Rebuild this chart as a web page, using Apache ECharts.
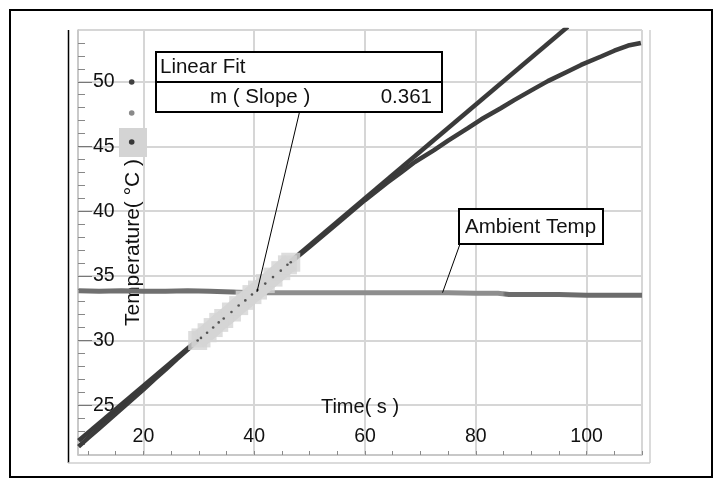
<!DOCTYPE html>
<html>
<head>
<meta charset="utf-8">
<script src="https://cdn.jsdelivr.net/npm/echarts@6/dist/echarts.min.js"></script>
<style>
html,body{margin:0;padding:0;background:#fff;}
#c{width:721px;height:485px;}
</style>
</head>
<body>
<div id="c"></div>
<script>
// ---- data ----
const xRange = [8.2, 110];
const yRange = [21.15, 54];
const xMinorTicks = [10,15,20,25,30,35,40,45,50,55,60,65,70,75,80,85,90,95,100,105,110];
const yMajorTicks = [25,30,35,40,45,50];
const yMinorTicks = [22,23,24,26,27,28,29,31,32,33,34,36,37,38,39,41,42,43,44,46,47,48,49,51,52,53];

// measured temperature (dark curve)
const tempData = [
  [8.3,21.8],[10,22.45],[12,23.2],[14,23.95],[16,24.7],[18,25.45],[20,26.2],[22,27.0],
  [24,27.75],[26,28.55],[28,29.3],[29.7,29.95],[32,30.9],[35,31.9],[38,33.0],[41,34.0],
  [44,35.1],[46.6,36.05],[50,37.25],[55,39.05],[60,40.85],[64,42.2],[66.4,42.95],
  [69,43.8],[72.4,44.7],[75,45.45],[78.5,46.4],[81,47.1],[84.5,47.95],[87,48.6],
  [90.5,49.45],[93,50.05],[96.6,50.8],[99,51.3],[102.6,51.95],[105,52.4],[107.5,52.8],[109.8,53.0]
];
// selected points (highlighted region of the linear fit)
const selectedData = [
  [29.8,30.0],[30.4,30.2],[31.5,30.6],[32.6,31.0],[33.6,31.4],[34.5,31.7],[35.9,32.2],
  [37.2,32.7],[38.4,33.1],[39.6,33.55],[40.6,33.9],[42.0,34.4],[43.4,34.9],[44.8,35.4],
  [46.0,35.85],[46.6,36.05]
];
// linear fit line end points (slope 0.361)
const fitData = [[8.3,22.25],[96.6,54.25]];
// ambient temperature
const ambientData = [
  [8.3,33.85],[12,33.8],[16,33.85],[20,33.8],[24,33.8],[28,33.85],[32,33.8],[36,33.75],
  [40,33.7],[45,33.7],[50,33.7],[55,33.7],[60,33.7],[65,33.7],[70,33.7],[75,33.7],
  [80,33.65],[84,33.65],[86,33.55],[90,33.55],[95,33.55],[100,33.5],[105,33.5],[110,33.5]
];
const fitLabel = 'Linear Fit';
const slopeName = 'm ( Slope )';
const slopeValue = '0.361';
const ambientLabel = 'Ambient Temp';
const fitAnchor = [40.5, 33.75];
const ambientAnchor = [74, 33.7];

const FONT = '"Liberation Sans", Arial, sans-serif';
const FS = 19.5;
const FA = 20.5;

const chart = echarts.init(document.getElementById('c'), null, {renderer:'canvas'});

const axisBase = (dim) => ({
  type:'value', gridIndex:0,
  min: dim==='x'?xRange[0]:yRange[0], max: dim==='x'?xRange[1]:yRange[1],
});

const option = {
  backgroundColor:'#fff',
  animation:false,
  grid:{left:78,right:79,top:30,bottom:30,outerBoundsMode:'none',containLabel:false},
  xAxis:[
    Object.assign(axisBase('x'),{
      position:'bottom',
      axisLine:{show:true,lineStyle:{color:'#c4c4c4',width:1.5}},
      axisTick:{show:false},
      axisLabel:{inside:true,margin:8,fontSize:FS,color:'#111',fontFamily:FONT,showMinLabel:false,showMaxLabel:false},
      splitLine:{show:true,lineStyle:{color:'#d6d6d6',width:2}},
      name:'Time( s )',nameLocation:'middle',nameGap:-58,nameMoveOverlap:false,
      nameTextStyle:{fontSize:20,color:'#111',fontFamily:FONT}
    }),
    Object.assign(axisBase('x'),{
      position:'bottom',
      axisLine:{show:false},
      axisLabel:{show:false},
      splitLine:{show:false},
      axisTick:{show:true,inside:true,length:4,customValues:xMinorTicks,lineStyle:{color:'#8a8a8a',width:1}}
    })
  ],
  yAxis:[
    Object.assign(axisBase('y'),{
      position:'left',
      axisLine:{show:true,lineStyle:{color:'#c4c4c4',width:1.5}},
      axisTick:{show:false},
      axisLabel:{inside:true,margin:15,fontSize:FS,color:'#111',fontFamily:FONT,showMinLabel:false,showMaxLabel:false},
      splitLine:{show:true,lineStyle:{color:'#d6d6d6',width:2}},
      name:'Temperature( °C )',nameLocation:'middle',nameGap:-66,nameMoveOverlap:false,
      nameTextStyle:{fontSize:21,color:'#111',fontFamily:FONT}
    }),
    Object.assign(axisBase('y'),{
      position:'left',
      axisLine:{show:false},axisLabel:{show:false},splitLine:{show:false},
      axisTick:{show:true,inside:true,length:14,customValues:yMajorTicks,lineStyle:{color:'#777',width:1}}
    }),
    Object.assign(axisBase('y'),{
      position:'left',
      axisLine:{show:false},axisLabel:{show:false},splitLine:{show:false},
      axisTick:{show:true,inside:true,length:7,customValues:yMinorTicks,lineStyle:{color:'#888',width:1}}
    })
  ],
  series:[
    {
      name:'Ambient', type:'line', data:ambientData, showSymbol:false, z:2,
      lineStyle:{width:5,color:new echarts.graphic.LinearGradient(0,0,1,0,[
        {offset:0,color:'#707070'},{offset:0.278,color:'#707070'},
        {offset:0.282,color:'#8e8e8e'},{offset:0.75,color:'#8e8e8e'},
        {offset:0.755,color:'#6c6c6c'},{offset:1,color:'#6c6c6c'}])}
    },
    {
      name:'Temperature', type:'line', data:tempData, showSymbol:false, z:3,
      lineStyle:{width:4.5,color:'#3c3c3c'}
    },
    {
      name:'Linear Fit', type:'line', data:fitData, showSymbol:false, z:3, clip:true,
      lineStyle:{width:4.5,color:'#3a3a3a'}
    },
    {
      name:'Selection band', type:'line', data:selectedData, showSymbol:false, z:4,
      lineStyle:{width:18,color:'#d4d4d4',cap:'butt'}
    },
    {
      name:'Selection', type:'scatter', data:selectedData, symbol:'rect', symbolSize:19, z:4,
      itemStyle:{color:'#d4d4d4'}
    },
    {
      name:'Selected points', type:'scatter', data:selectedData, symbol:'circle', symbolSize:2.6, z:5,
      itemStyle:{color:'#333'}
    }
  ]
};
chart.setOption(option);

const fa = chart.convertToPixel({gridIndex:0}, fitAnchor);
const aa = chart.convertToPixel({gridIndex:0}, ambientAnchor);

chart.setOption({
  graphic:[
    // outer frame
    {type:'rect',shape:{x:10,y:10,width:702,height:467},style:{fill:null,stroke:'#000',lineWidth:2},z:200,silent:true},
    // panel frame
    {type:'line',shape:{x1:68.5,y1:30,x2:68.5,y2:463},style:{stroke:'#000',lineWidth:1.5},z:50},
    {type:'line',shape:{x1:650,y1:30,x2:650,y2:463},style:{stroke:'#cfcfcf',lineWidth:1.5},z:50},
    {type:'line',shape:{x1:68,y1:463,x2:650,y2:463},style:{stroke:'#cfcfcf',lineWidth:1.5},z:50},
    // series indicators beside the y title
    {type:'rect',shape:{x:119,y:128,width:28,height:29},style:{fill:'#d4d4d4'},z:50},
    {type:'circle',shape:{cx:131.7,cy:82,r:2.8},style:{fill:'#404040'},z:51},
    {type:'circle',shape:{cx:131.7,cy:113,r:2.8},style:{fill:'#8a8a8a'},z:51},
    {type:'circle',shape:{cx:131.7,cy:142,r:2.8},style:{fill:'#383838'},z:51},
    // linear fit annotation
    {type:'line',shape:{x1:299.5,y1:112,x2:fa[0],y2:fa[1]},style:{stroke:'#000',lineWidth:1},z:60},
    {type:'rect',shape:{x:156,y:52,width:286,height:60},style:{fill:'#fff',stroke:'#000',lineWidth:2},z:70},
    {type:'line',shape:{x1:156,y1:82,x2:442,y2:82},style:{stroke:'#000',lineWidth:2},z:71},
    {type:'text',x:160,y:67,style:{text:fitLabel,font:FA+'px '+FONT,fill:'#111',verticalAlign:'middle'},z:72},
    {type:'text',x:210,y:97,style:{text:slopeName,font:FA+'px '+FONT,fill:'#111',verticalAlign:'middle'},z:72},
    {type:'text',x:432,y:97,style:{text:slopeValue,font:FA+'px '+FONT,fill:'#111',align:'right',verticalAlign:'middle'},z:72},
    // ambient annotation
    {type:'line',shape:{x1:460,y1:244,x2:aa[0],y2:aa[1]},style:{stroke:'#000',lineWidth:1},z:60},
    {type:'rect',shape:{x:459,y:209,width:144,height:35},style:{fill:'#fff',stroke:'#000',lineWidth:2},z:70},
    {type:'text',x:465,y:227,style:{text:ambientLabel,font:FA+'px '+FONT,fill:'#111',verticalAlign:'middle'},z:72}
  ]
});
</script>
</body>
</html>
